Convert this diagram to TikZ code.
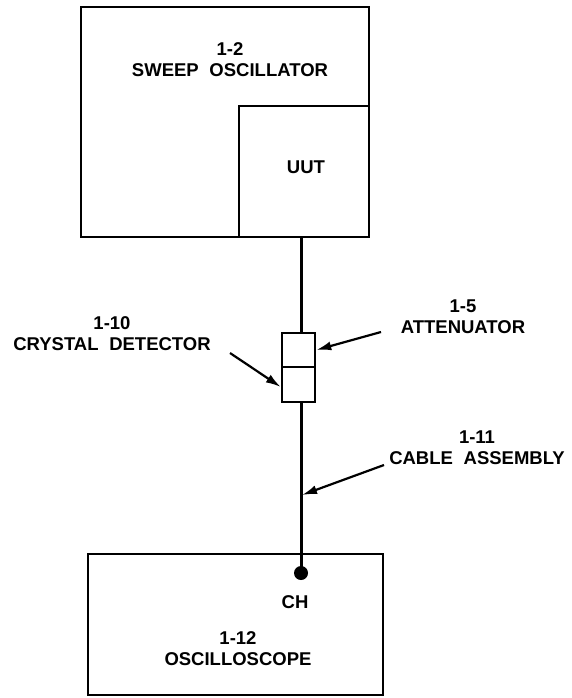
\documentclass[tikz,border=0pt]{standalone}
\usepackage{fontspec}
\setmainfont{Liberation Sans}
\usepackage{tikz}
\usetikzlibrary{arrows.meta,positioning,calc}

\begin{document}
\begin{tikzpicture}[
    x=1pt, y=-1pt,
    box/.style={draw=black, line width=2.5pt, inner sep=0pt},
    lbl/.style={font=\fontsize{18.5}{21}\selectfont\bfseries, align=center, inner sep=1pt},
    cable/.style={line width=3pt},
    pointer/.style={line width=2.2pt, -{Latex[length=15pt,width=9pt]}}
]
    \useasboundingbox (0,0) rectangle (571,698);

    % Sweep oscillator with UUT in its lower right corner
    \node[box, minimum width=288pt, minimum height=230pt] (sweep) at (225,122) {};
    \node[lbl] (sweep_lbl) at (230,60) {1-2\\SWEEP\hspace{0.3em} OSCILLATOR};
    \node[box, minimum width=130pt, minimum height=131pt] (uut) at (304,171.5) {};
    \node[lbl] (uut_lbl) at (306,167) {UUT};

    % Attenuator and crystal detector
    \node[box, minimum width=33pt, minimum height=34pt] (att) at (298.5,350) {};
    \node[box, minimum width=33pt, minimum height=35pt] (det) at (298.5,384.5) {};

    % Oscilloscope
    \node[box, minimum width=295pt, minimum height=141pt] (scope) at (235.5,624.5) {};
    \node[lbl] (scope_lbl) at (238,649) {1-12\\OSCILLOSCOPE};
    \node[circle, fill=black, inner sep=0pt, minimum size=14pt] (ch) at (301,573) {};
    \node[lbl] (ch_lbl) at (295,602) {CH};

    % Cable runs
    \coordinate (ln) at (301,0);
    \draw[cable] (uut.south -| ln) -- (att.north -| ln);
    \draw[cable] (det.south -| ln) -- (ch.center);
    \coordinate (cable_pt) at (302,495);

    % Labels with pointers
    \node[lbl] (det_lbl) at (112,334) {1-10\\CRYSTAL\hspace{0.3em} DETECTOR};
    \node[lbl] (att_lbl) at (463,317) {1-5\\ATTENUATOR};
    \node[lbl] (cab_lbl) at (477,448) {1-11\\CABLE\hspace{0.3em} ASSEMBLY};

    \coordinate (det_tail) at (230,353);
    \coordinate (att_tail) at (381,332);
    \coordinate (cab_tail) at (384,465);
    \draw[pointer] (det_tail) -- ([yshift=-2.5pt]det.west);
    \draw[pointer] (att_tail) -- (att.east);
    \draw[pointer] (cab_tail) -- (cable_pt);

\end{tikzpicture}
\end{document}
